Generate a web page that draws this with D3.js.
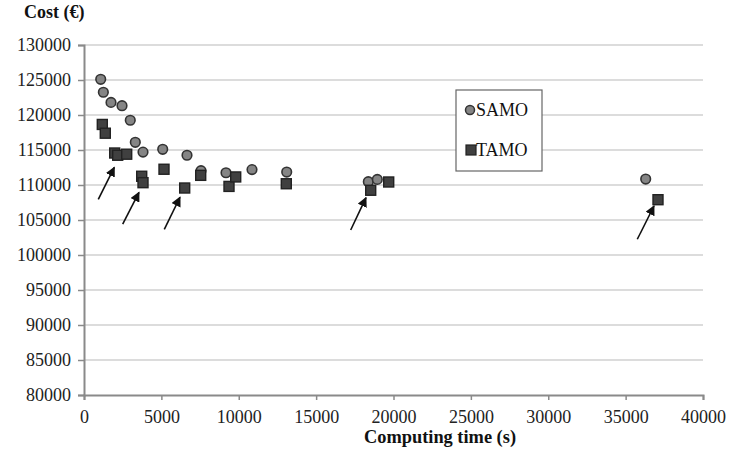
<!DOCTYPE html>
<html><head><meta charset="utf-8">
<script src="https://cdn.jsdelivr.net/npm/d3@7"></script>
<style>body{margin:0;background:#fff}svg{display:block}</style>
</head><body><svg id="c" width="730" height="454"></svg>
<script>
const samoTime = [1080,1250,1745,2456,2990,3315,3813,5086,6656,7561,9176,10856,13099,18372,18953,36297];
const samoCost = [125100,123250,121800,121330,119250,116100,114700,115100,114250,112050,111750,112200,111850,110470,110800,110850];
const tamoTime = [1183,1376,1984,2178,2759,3729,3813,5170,6507,7541,9370,9803,13073,18527,19690,37092];
const tamoCost = [118650,117400,114570,114250,114400,111250,110330,112250,109570,111380,109800,111150,110180,109250,110430,107900];
const arrowTailTime = [924,2501,5189,17234,35755];
const arrowTailCost = [107950,104400,103670,103570,102250];
const arrowTipTime = [1958,3554,6204,18223,36834];
const arrowTipCost = [112530,108950,108250,108190,107000];
const xTicks = [0,5000,10000,15000,20000,25000,30000,35000,40000];
const yTicks = [80000,85000,90000,95000,100000,105000,110000,115000,120000,125000,130000];
const seriesNames = ["SAMO","TAMO"];

const svg = d3.select("#c");
const font = "'Liberation Serif','Times New Roman',serif";
const x = d3.scaleLinear().domain([0,40000]).range([84,703]);
const y = d3.scaleLinear().domain([80000,130000]).range([395,45]);

// gridlines
svg.append("g").selectAll("line").data(yTicks.filter(d=>d>80000)).join("line")
  .attr("x1",x(0)).attr("x2",x(40000)).attr("y1",d=>y(d)).attr("y2",d=>y(d))
  .attr("stroke","#dcdcdc").attr("stroke-width",2);

// y axis
const ya = svg.append("g").attr("transform",`translate(${x(0)},0)`)
  .call(d3.axisLeft(y).tickValues(yTicks).tickFormat(d3.format("d")).tickSize(6).tickPadding(7));
ya.attr("font-family",font).attr("font-size",18);
ya.select(".domain").attr("stroke","#8a8a8a").attr("stroke-width",2);
ya.selectAll(".tick line").attr("stroke","#8a8a8a").attr("stroke-width",1.5);
ya.selectAll("text").style("font-family",font).style("font-size","18px").attr("fill","#222");

// x axis
const xa = svg.append("g").attr("transform",`translate(0,${y(80000)})`)
  .call(d3.axisBottom(x).tickValues(xTicks).tickFormat(d3.format("d")).tickSize(5).tickPadding(10));
xa.attr("font-family",font).attr("font-size",18);
xa.select(".domain").attr("stroke","#8a8a8a").attr("stroke-width",2);
xa.selectAll(".tick line").attr("stroke","#8a8a8a").attr("stroke-width",1.5);
xa.selectAll("text").style("font-family",font).style("font-size","18px").attr("fill","#222");

// titles
svg.append("text").attr("x",24).attr("y",18).style("font-family",font).style("font-size","18px")
  .attr("font-weight","bold").attr("fill","#111").text("Cost (€)");
svg.append("text").attr("x",440).attr("y",443).attr("text-anchor","middle").style("font-family",font)
  .style("font-size","18px").attr("font-weight","bold").attr("fill","#111")
  .attr("textLength",152).attr("lengthAdjust","spacingAndGlyphs").text("Computing time (s)");

// SAMO points
svg.append("g").selectAll("circle").data(samoTime.map((t,i)=>[t,samoCost[i]])).join("circle")
  .attr("cx",d=>x(d[0])).attr("cy",d=>y(d[1])).attr("r",4.8)
  .attr("fill","#858585").attr("stroke","#333").attr("stroke-width",1.6);

// TAMO points
const s = 10;
svg.append("g").selectAll("rect").data(tamoTime.map((t,i)=>[t,tamoCost[i]])).join("rect")
  .attr("x",d=>x(d[0])-s/2).attr("y",d=>y(d[1])-s/2).attr("width",s).attr("height",s)
  .attr("fill","#404040").attr("stroke","#222").attr("stroke-width",1.4);

// arrows
svg.append("defs").append("marker").attr("id","ah").attr("viewBox","0 0 10 10")
  .attr("refX",9).attr("refY",5).attr("markerWidth",10).attr("markerHeight",10)
  .attr("markerUnits","userSpaceOnUse").attr("orient","auto")
  .append("path").attr("d","M0,0 L10,5 L0,10 z").attr("fill","#111");
svg.append("g").selectAll("line").data(arrowTailTime.map((t,i)=>i)).join("line")
  .attr("x1",i=>x(arrowTailTime[i])).attr("y1",i=>y(arrowTailCost[i]))
  .attr("x2",i=>x(arrowTipTime[i])).attr("y2",i=>y(arrowTipCost[i]))
  .attr("stroke","#111").attr("stroke-width",1.6).attr("marker-end","url(#ah)");

// legend
const lg = svg.append("g");
lg.append("rect").attr("x",456).attr("y",90).attr("width",86).attr("height",81)
  .attr("fill","#fff").attr("stroke","#666").attr("stroke-width",1.2);
lg.append("circle").attr("cx",470).attr("cy",110).attr("r",4.5)
  .attr("fill","#858585").attr("stroke","#333").attr("stroke-width",1.5);
lg.append("rect").attr("x",466).attr("y",145).attr("width",10).attr("height",10)
  .attr("fill","#404040").attr("stroke","#222").attr("stroke-width",1.2);
lg.selectAll("text").data(seriesNames).join("text")
  .attr("x",476).attr("y",(d,i)=>116+i*40).style("font-family",font).style("font-size","18px")
  .attr("fill","#111").text(d=>d);
</script></body></html>
